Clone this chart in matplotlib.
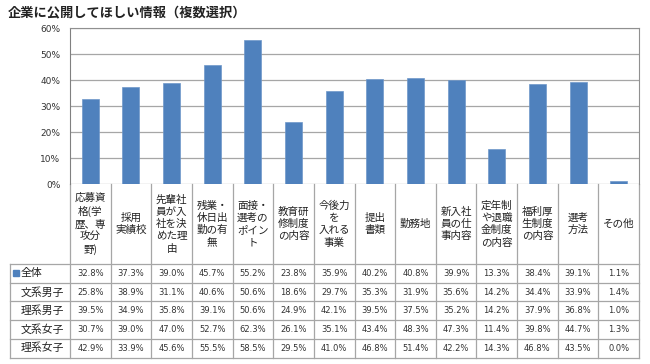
import matplotlib
matplotlib.use("Agg")
import matplotlib.pyplot as plt
from matplotlib.patches import Rectangle

plt.rcParams["font.family"] = ["Noto Sans CJK JP", "DejaVu Sans"]

# data
categories = [
    "応募資\n格(学\n歴、専\n攻分\n野)",
    "採用\n実績校",
    "先輩社\n員が入\n社を決\nめた理\n由",
    "残業・\n休日出\n勤の有\n無",
    "面接・\n選考の\nポイン\nト",
    "教育研\n修制度\nの内容",
    "今後力\nを\n入れる\n事業",
    "提出\n書類",
    "勤務地",
    "新入社\n員の仕\n事内容",
    "定年制\nや退職\n金制度\nの内容",
    "福利厚\n生制度\nの内容",
    "選考\n方法",
    "その他",
]
row_labels = ["全体", "文系男子", "理系男子", "文系女子", "理系女子"]
zentai = [32.8, 37.3, 39.0, 45.7, 55.2, 23.8, 35.9, 40.2, 40.8, 39.9, 13.3, 38.4, 39.1, 1.1]
bunkei_danshi = [25.8, 38.9, 31.1, 40.6, 50.6, 18.6, 29.7, 35.3, 31.9, 35.6, 14.2, 34.4, 33.9, 1.4]
rikei_danshi = [39.5, 34.9, 35.8, 39.1, 50.6, 24.9, 42.1, 39.5, 37.5, 35.2, 14.2, 37.9, 36.8, 1.0]
bunkei_joshi = [30.7, 39.0, 47.0, 52.7, 62.3, 26.1, 35.1, 43.4, 48.3, 47.3, 11.4, 39.8, 44.7, 1.3]
rikei_joshi = [42.9, 33.9, 45.6, 55.5, 58.5, 29.5, 41.0, 46.8, 51.4, 42.2, 14.3, 46.8, 43.5, 0.0]
table_rows = [zentai, bunkei_danshi, rikei_danshi, bunkei_joshi, rikei_joshi]
yticks = [0, 10, 20, 30, 40, 50, 60]

W, H = 650, 364
fig = plt.figure(figsize=(W / 100, H / 100), dpi=100)
left, right, top, bottom = 70, 639, 28, 184
ax = fig.add_axes([left / W, 1 - bottom / H, (right - left) / W, (bottom - top) / H])

bar_color = "#4F81BD"
x = list(range(len(categories)))
ax.bar(x, zentai, width=0.42, color=bar_color, edgecolor="#6f97c9", linewidth=0.5, zorder=3)
ax.set_xlim(-0.5, len(categories) - 0.5)
ax.set_ylim(0, 60)
ax.set_yticks(yticks)
ax.set_yticklabels([f"{t}%" for t in yticks], fontsize=6.5, family="DejaVu Sans", color="#333333")
ax.tick_params(axis="y", length=0, pad=7)
ax.set_xticks([])
ax.grid(axis="y", color="#a6a6a6", linewidth=0.9, zorder=0)
for s in ["top", "right"]:
    ax.spines[s].set_color("#909090")
ax.spines["left"].set_color("#808080")
ax.spines["bottom"].set_visible(False)

# table below (x in data units, y in axes fraction)
tr = ax.get_xaxis_transform()
ph = bottom - top
def yf(py):
    return (bottom - py) / ph

col_w = (right - left) / len(categories)
x_lab = -0.5 - (left - 10) / col_w
x_lab_text = -0.5 - (left - 21) / col_w
header_bottom = 264
row_h = 18.7
row_edges = [header_bottom + i * row_h for i in range(len(row_labels) + 1)]
line_c = "#a6a6a6"

for i in range(len(categories) + 1):
    ax.plot([i - 0.5, i - 0.5], [0, yf(row_edges[-1])], transform=tr, color=line_c,
            linewidth=0.9, clip_on=False)
ax.plot([x_lab, x_lab], [yf(row_edges[0]), yf(row_edges[-1])], transform=tr, color=line_c,
        linewidth=0.9, clip_on=False)
for ye in row_edges:
    ax.plot([x_lab, len(categories) - 0.5], [yf(ye), yf(ye)], transform=tr, color=line_c,
            linewidth=0.9, clip_on=False)

for i, lab in enumerate(categories):
    ax.text(i, yf((bottom + header_bottom) / 2), lab, transform=tr, ha="center", va="center",
            fontsize=7.6, linespacing=1.28, color="#222222", clip_on=False)

for r, (lab, vals) in enumerate(zip(row_labels, table_rows)):
    yc = yf(row_edges[r] + row_h / 2)
    ax.text(x_lab_text, yc, lab, transform=tr, ha="left", va="center", fontsize=7.8,
            color="#222222", clip_on=False)
    for i, v in enumerate(vals):
        ax.text(i, yc, f"{v:.1f}%", transform=tr, ha="center", va="center", fontsize=6,
                family="DejaVu Sans", color="#333333", clip_on=False)

# legend key in first row
fig.patches.append(Rectangle((13 / W, 1 - 276 / H), 6 / W, 6 / H, transform=fig.transFigure,
                             color=bar_color))

fig.text(8 / W, 1 - 12 / H, "企業に公開してほしい情報（複数選択）", fontsize=9.5,
         fontweight="bold", va="center", ha="left", color="#222222")

fig.savefig("out.png", dpi=100)
